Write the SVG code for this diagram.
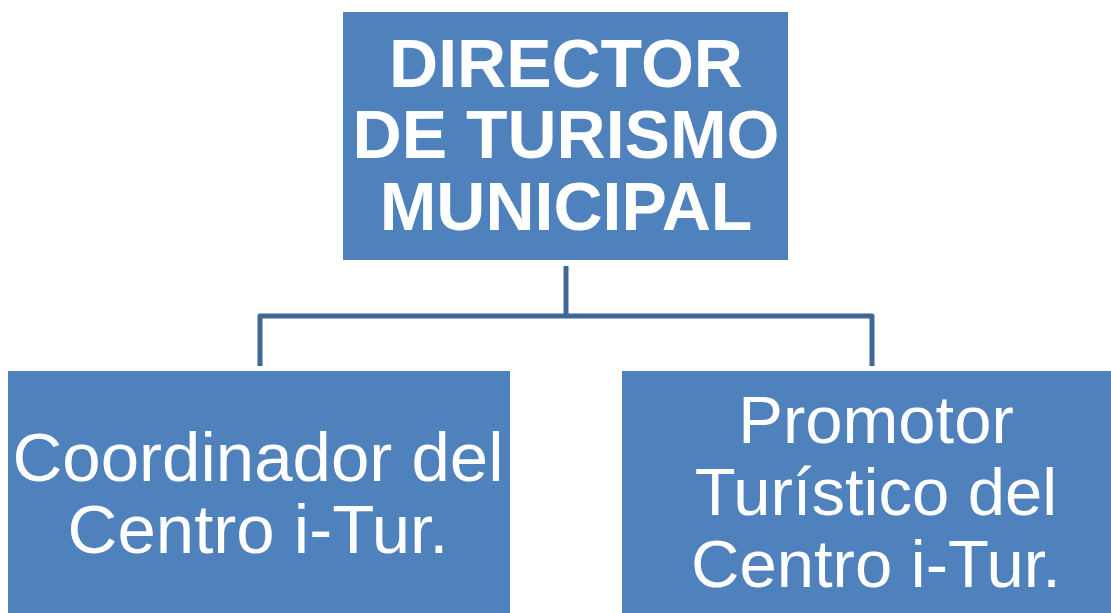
<svg xmlns="http://www.w3.org/2000/svg" width="1111" height="613" viewBox="0 0 1111 613">
<style>
.box{fill:#4F81BD;}
.t{fill:#FFFFFF;font-family:"Liberation Sans",Arial,sans-serif;font-size:69px;text-anchor:middle;}
.b{font-weight:bold;font-size:68px;}
.r{font-size:67px;}
.c{fill:none;stroke:#40679A;stroke-width:5;stroke-linejoin:round;}
</style>
<rect width="1111" height="613" fill="#FFFFFF"/>
<g id="connectors">
<path class="c" d="M566,266 V316"/>
<path class="c" d="M260,366 V316 H872 V366"/>
</g>
<g id="director">
<rect class="box" x="343" y="12" width="445" height="248"/>
<text class="t b" x="566" y="87">DIRECTOR</text>
<text class="t b" x="566" y="158">DE TURISMO</text>
<text class="t b" x="566" y="230">MUNICIPAL</text>
</g>
<g id="coordinador">
<rect class="box" x="8" y="371" width="502" height="250"/>
<text class="t" x="258" y="481">Coordinador del</text>
<text class="t" x="258" y="553">Centro i-Tur.</text>
</g>
<g id="promotor">
<rect class="box" x="622" y="371" width="502" height="250"/>
<text class="t r" x="876" y="443">Promotor</text>
<text class="t r" x="876" y="515">Turístico del</text>
<text class="t r" x="876" y="587">Centro i-Tur.</text>
</g>
</svg>
